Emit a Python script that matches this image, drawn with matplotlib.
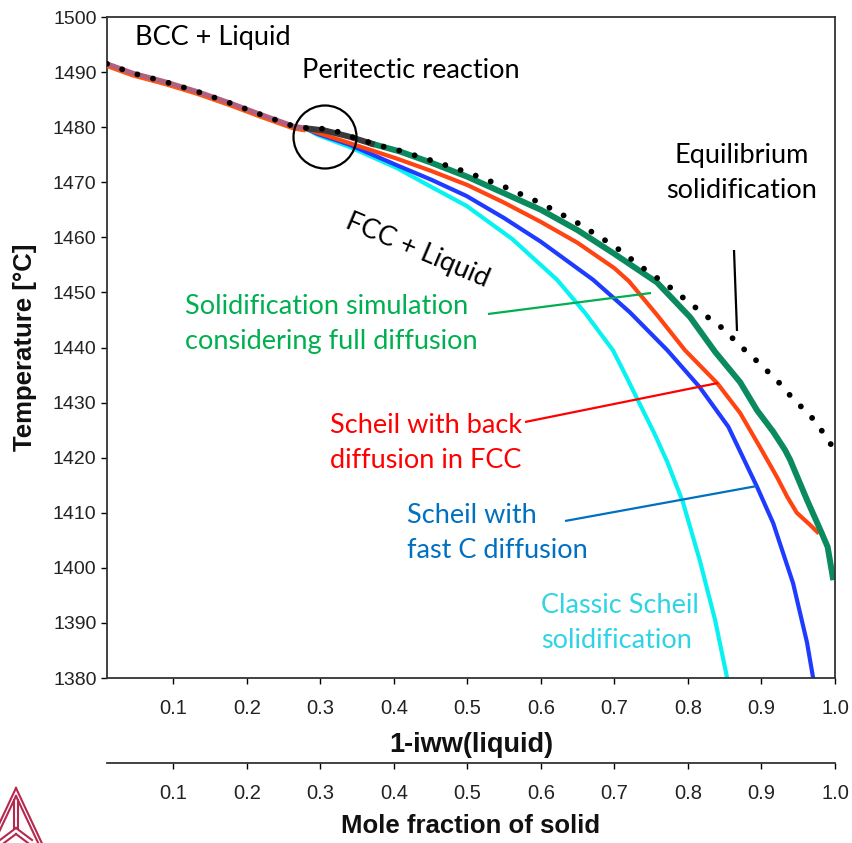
import numpy as np
import matplotlib
matplotlib.use("Agg")
import matplotlib.pyplot as plt
from matplotlib.patches import Ellipse
import matplotlib.patheffects as pe

# ---------------- data ----------------
# shared BCC + Liquid part (all simulations coincide)
bcc_x = [0.01, 0.045, 0.09, 0.134, 0.177, 0.221, 0.263, 0.28]
bcc_T = [1491.5, 1489.8, 1488.2, 1486.4, 1484.4, 1482.2, 1480.2, 1479.8]

# equilibrium solidification (dotted)
eq_x = [0.01, 0.045, 0.09, 0.134, 0.177, 0.221, 0.263, 0.283, 0.306, 0.317, 0.339,
        0.382, 0.404, 0.45, 0.5, 0.55, 0.6, 0.65, 0.7, 0.735, 0.752, 0.773, 0.791,
        0.808, 0.827, 0.845, 0.88, 0.895, 0.912, 0.927, 0.942, 0.959, 0.974, 0.988, 0.997]
eq_T = [1491.5, 1489.8, 1488.2, 1486.4, 1484.4, 1482.2, 1480.2, 1479.8, 1479.7, 1479.5, 1478.4,
        1476.6, 1475.9, 1474.0, 1471.8, 1469.2, 1466.2, 1462.6, 1458.4, 1454.8, 1453.2, 1451.2,
        1449.3, 1447.5, 1445.5, 1443.7, 1439.2, 1437.4, 1435.2, 1433.2, 1430.8, 1428.6, 1426.5,
        1423.7, 1421.9]

# solidification simulation with full diffusion (after the peritectic)
full_x = [0.28, 0.306, 0.339, 0.37, 0.408, 0.45, 0.5, 0.55, 0.6, 0.65, 0.7, 0.758, 0.803,
          0.837, 0.871, 0.894, 0.916, 0.932, 0.939, 0.962, 0.98, 0.99, 0.997]
full_T = [1479.8, 1479.4, 1478.3, 1477.0, 1475.6, 1473.6, 1471.0, 1468.0, 1465.0, 1461.3,
          1457.0, 1451.8, 1445.5, 1439.2, 1433.7, 1428.6, 1424.7, 1421.4, 1419.6, 1412.3,
          1406.9, 1403.8, 1398.3]
full_peritectic_end = 0.37

# Scheil with back diffusion in FCC
back_x = [0.28, 0.296, 0.34, 0.404, 0.45, 0.5, 0.55, 0.6, 0.65, 0.7, 0.72, 0.758, 0.796,
          0.84, 0.871, 0.898, 0.921, 0.935, 0.948, 0.966, 0.976]
back_T = [1479.8, 1479.0, 1477.1, 1474.3, 1472.1, 1469.5, 1466.3, 1462.8, 1459.0, 1454.4,
          1452.0, 1445.9, 1439.5, 1433.5, 1428.1, 1421.9, 1416.5, 1412.9, 1410.0, 1407.8,
          1406.5]

# Scheil with fast C diffusion
fastc_x = [0.28, 0.296, 0.34, 0.404, 0.452, 0.499, 0.55, 0.6, 0.671, 0.721, 0.772, 0.816,
           0.855, 0.894, 0.916, 0.943, 0.962, 0.970]
fastc_T = [1479.8, 1478.8, 1476.8, 1473.1, 1470.4, 1467.5, 1463.5, 1459.2, 1452.3, 1446.4,
           1439.5, 1432.8, 1425.6, 1414.7, 1408.1, 1397.2, 1386.4, 1380.2]

# classic Scheil
classic_x = [0.28, 0.296, 0.34, 0.404, 0.449, 0.499, 0.561, 0.622, 0.66, 0.698, 0.717,
             0.735, 0.754, 0.772, 0.793, 0.816, 0.837, 0.853]
classic_T = [1479.8, 1478.6, 1476.4, 1472.6, 1469.3, 1465.7, 1459.7, 1452.3, 1446.3, 1439.5,
             1434.5, 1429.6, 1424.5, 1419.2, 1412.0, 1401.4, 1390.5, 1380.2]

x_ticks = [0.1, 0.2, 0.3, 0.4, 0.5, 0.6, 0.7, 0.8, 0.9, 1.0]
x_tick_labels = ["0.1", "0.2", "0.3", "0.4", "0.5", "0.6", "0.7", "0.8", "0.9", "1.0"]
y_ticks = list(range(1380, 1501, 10))

# ---------------- figure ----------------
W, H = 852, 843
fig = plt.figure(figsize=(W / 100, H / 100), dpi=100)
L, R, T_, B = 107, 835, 17, 678
ax = fig.add_axes([L / W, 1 - B / H, (R - L) / W, (B - T_) / H])
ax.set_xlim(0.01, 1.0)
ax.set_ylim(1380, 1500)

tick_font = ["Liberation Sans", "DejaVu Sans"]
narrow_font = ["Liberation Sans Narrow", "Liberation Sans", "DejaVu Sans"]
note_font = ["Lato", "DejaVu Sans"]

for s in ax.spines.values():
    s.set_linewidth(1.3)
    s.set_color("#333333")
ax.set_xticks(x_ticks)
ax.set_xticklabels(x_tick_labels, family=tick_font, fontsize=14.5, color="#222222")
ax.set_yticks(y_ticks)
ax.set_yticklabels([str(v) for v in y_ticks], family=tick_font, fontsize=14, color="#222222")
ax.tick_params(axis="x", direction="out", length=4, width=1, pad=11)
ax.tick_params(axis="y", direction="out", length=4.5, width=1, pad=3)

# curves
ax.plot(bcc_x, bcc_T, color="#b36080", lw=3.6, solid_capstyle="butt", zorder=3.1,
        path_effects=[pe.SimpleLineShadow(offset=(0, -1.3), shadow_color="#ff5a10", alpha=1.0),
                      pe.Normal()])
ax.plot(classic_x, classic_T, color="#08f2f2", lw=3.0, zorder=2)
ax.plot(fastc_x, fastc_T, color="#1f3bff", lw=3.0, zorder=2.1)
ax.plot(back_x, back_T, color="#ff4412", lw=3.0, zorder=2.2)

fx = np.array(full_x)
fT = np.array(full_T)
m1 = fx <= full_peritectic_end
m2 = fx >= full_peritectic_end
ax.plot(fx[m2], fT[m2], color="#0b8a5e", lw=4.3, zorder=2.3)
ax.plot(fx[m1], fT[m1], color="#3a3a3a", lw=4.3, zorder=2.4)

ax.plot(eq_x, eq_T, color="black", lw=4.2, linestyle=(0, (0.01, 2.75)),
        dash_capstyle="round", zorder=4)

# annotations
def px2d(px, py):
    x0 = 0.01 + (px - L) / (R - L) * 0.99
    y0 = 1500 - (py - T_) / (B - T_) * 120
    return x0, y0

fs = 19.5
ls = 1.5
ax.text(*px2d(135, 38), "BCC + Liquid", family=note_font, fontsize=fs, ha="left", va="center")
ax.text(*px2d(302, 70), "Peritectic reaction", family=note_font, fontsize=fs, ha="left", va="center")
ax.text(*px2d(417, 250), "FCC + Liquid", family=note_font, fontsize=fs, ha="center", va="center",
        rotation=-23)
ax.text(*px2d(742, 173), "Equilibrium\nsolidification", family=note_font, fontsize=fs,
        ha="center", va="center", multialignment="center", linespacing=ls)
ax.text(*px2d(185, 324), "Solidification simulation\nconsidering full diffusion",
        family=note_font, fontsize=fs, ha="left", va="center", color="#00b050", linespacing=ls)
ax.text(*px2d(426, 443), "Scheil with back\ndiffusion in FCC", family=note_font, fontsize=fs,
        ha="center", va="center", multialignment="center", color="#ff0000", linespacing=ls)
ax.text(*px2d(407, 533), "Scheil with\nfast C diffusion", family=note_font, fontsize=fs,
        ha="left", va="center", color="#0070c0", linespacing=ls)
ax.text(*px2d(541, 623), "Classic Scheil\nsolidification", family=note_font, fontsize=fs,
        ha="left", va="center", color="#2fd3e6", linespacing=ls)

def pointer(p0, p1, color):
    a = px2d(*p0)
    b = px2d(*p1)
    ax.plot([a[0], b[0]], [a[1], b[1]], color=color, lw=1.6, zorder=5, solid_capstyle="butt")

pointer((734, 250), (737, 331), "black")
pointer((488, 314), (651, 293), "#00b050")
pointer((525, 422), (718, 383), "#ff0000")
pointer((565, 521), (757, 486), "#0070c0")

c = px2d(325, 137)
rx = 31.5 / (R - L) * 0.99
ry = 31.5 / (B - T_) * 120
ax.add_patch(Ellipse(c, 2 * rx, 2 * ry, fill=False, edgecolor="black", lw=1.6, zorder=6))

# axis labels
fig.text(471 / W, 1 - 745 / H, "1-iww(liquid)", family=narrow_font, fontsize=19.5,
         fontweight="bold", ha="center", va="center", color="#111111")
fig.text(25 / W, 1 - 347 / H, "Temperature [°C]", family=tick_font, fontsize=18.5,
         fontweight="bold", rotation=90, ha="center", va="center", color="#111111")

# second axis
ax2 = fig.add_axes([L / W, 1 - 763 / H, (R - L) / W, 0.0001])
ax2.set_xlim(0.01, 1.0)
for k in ["left", "right", "top"]:
    ax2.spines[k].set_visible(False)
ax2.spines["bottom"].set_linewidth(1.3)
ax2.spines["bottom"].set_color("#333333")
ax2.set_yticks([])
ax2.set_xticks(x_ticks)
ax2.set_xticklabels(x_tick_labels, family=tick_font, fontsize=14.5, color="#222222")
ax2.tick_params(axis="x", direction="out", length=4, width=1, pad=11)
ax2.patch.set_visible(False)
fig.text(471 / W, 1 - 826 / H, "Mole fraction of solid", family=narrow_font, fontsize=18.5,
         fontweight="bold", ha="center", va="center", color="#111111")

# logo (decorative)
lg = fig.add_axes([0, 0, 70 / W, 62 / H])
lg.set_xlim(0, 70)
lg.set_ylim(843, 781)
lg.axis("off")
lc = "#b5294e"
for (xa, ya), (xb, yb) in [((16, 788), (-14, 852)), ((16, 788), (46, 852)),
                           ((16, 796), (-9, 849)), ((16, 796), (41, 849)),
                           ((14.3, 800), (14.3, 828)), ((17.7, 800), (17.7, 828)),
                           ((16, 828), (0, 840)), ((16, 828), (32, 840)),
                           ((16, 834), (4, 843)), ((16, 834), (28, 843))]:
    lg.plot([xa, xb], [ya, yb], color=lc, lw=1.5, clip_on=True)

fig.savefig("out.png", dpi=100)
